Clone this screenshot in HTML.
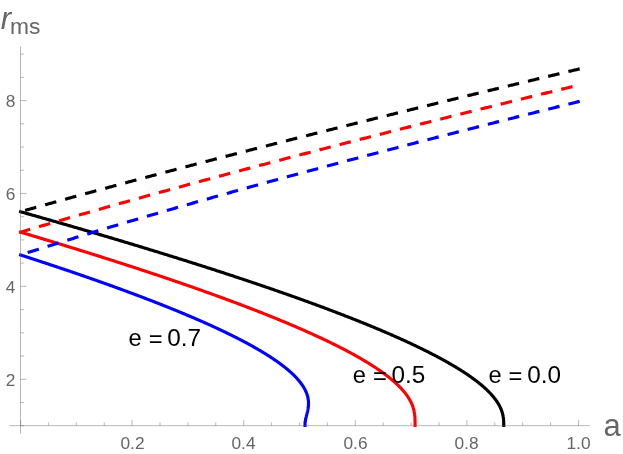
<!DOCTYPE html>
<html><head><meta charset="utf-8"><title>plot</title>
<style>
html,body{margin:0;padding:0;background:#fff;}
body{width:623px;height:454px;overflow:hidden;}
svg{display:block;will-change:transform;}
text{font-family:"Liberation Sans",sans-serif;}
</style></head><body>
<svg width="623" height="454" viewBox="0 0 623 454">
<rect width="623" height="454" fill="#fff"/>
<g fill="none" stroke-width="3.15" stroke-linejoin="round">
<path d="M19.12,254.51 L20.50,254.96 L21.56,255.30 L22.62,255.64 L23.68,255.98 L24.74,256.33 L25.80,256.67 L26.85,257.01 L27.91,257.35 L28.96,257.69 L30.01,258.04 L31.07,258.38 L32.12,258.72 L33.16,259.06 L34.21,259.41 L35.26,259.75 L36.31,260.09 L37.35,260.43 L38.39,260.77 L39.44,261.12 L40.48,261.46 L41.52,261.80 L42.56,262.14 L43.59,262.48 L44.63,262.83 L45.67,263.17 L46.70,263.51 L47.73,263.85 L48.77,264.20 L49.80,264.54 L50.83,264.88 L51.85,265.22 L52.88,265.56 L53.91,265.91 L54.93,266.25 L55.95,266.59 L56.98,266.93 L58.00,267.28 L59.02,267.62 L60.04,267.96 L61.05,268.30 L62.07,268.64 L63.09,268.99 L64.10,269.33 L65.11,269.67 L66.12,270.01 L67.13,270.35 L68.14,270.70 L69.15,271.04 L70.16,271.38 L71.16,271.72 L72.17,272.07 L73.17,272.41 L74.17,272.75 L75.17,273.09 L76.17,273.43 L77.17,273.78 L78.16,274.12 L79.16,274.46 L80.15,274.80 L81.14,275.15 L82.13,275.49 L83.12,275.83 L84.11,276.17 L85.10,276.51 L86.09,276.86 L87.07,277.20 L88.05,277.54 L89.04,277.88 L90.02,278.22 L91.00,278.57 L91.97,278.91 L92.95,279.25 L93.93,279.59 L94.90,279.94 L95.87,280.28 L96.85,280.62 L97.82,280.96 L98.78,281.30 L99.75,281.65 L100.72,281.99 L101.68,282.33 L102.65,282.67 L103.61,283.02 L104.57,283.36 L105.53,283.70 L106.48,284.04 L107.44,284.38 L108.40,284.73 L109.35,285.07 L110.30,285.41 L111.25,285.75 L112.20,286.09 L113.15,286.44 L114.10,286.78 L115.04,287.12 L115.99,287.46 L116.93,287.81 L117.87,288.15 L118.81,288.49 L119.75,288.83 L120.68,289.17 L121.62,289.52 L122.55,289.86 L123.48,290.20 L124.42,290.54 L125.34,290.88 L126.27,291.23 L127.20,291.57 L128.12,291.91 L129.05,292.25 L129.97,292.60 L130.89,292.94 L131.81,293.28 L132.73,293.62 L133.64,293.96 L134.56,294.31 L135.47,294.65 L136.38,294.99 L137.29,295.33 L138.20,295.68 L139.11,296.02 L140.01,296.36 L140.91,296.70 L141.82,297.04 L142.72,297.39 L143.62,297.73 L144.51,298.07 L145.41,298.41 L146.30,298.75 L147.20,299.10 L148.09,299.44 L148.98,299.78 L149.87,300.12 L150.75,300.47 L151.64,300.81 L152.52,301.15 L153.40,301.49 L154.28,301.83 L155.16,302.18 L156.04,302.52 L156.91,302.86 L157.79,303.20 L158.66,303.55 L159.53,303.89 L160.40,304.23 L161.26,304.57 L162.13,304.91 L162.99,305.26 L163.85,305.60 L164.71,305.94 L165.57,306.28 L166.43,306.62 L167.28,306.97 L168.14,307.31 L168.99,307.65 L169.84,307.99 L170.69,308.34 L171.53,308.68 L172.38,309.02 L173.22,309.36 L174.06,309.70 L174.90,310.05 L175.74,310.39 L176.58,310.73 L177.41,311.07 L178.24,311.42 L179.07,311.76 L179.90,312.10 L180.73,312.44 L181.56,312.78 L182.38,313.13 L183.20,313.47 L184.02,313.81 L184.84,314.15 L185.66,314.49 L186.47,314.84 L187.28,315.18 L188.09,315.52 L188.90,315.86 L189.71,316.21 L190.51,316.55 L191.32,316.89 L192.12,317.23 L192.92,317.57 L193.72,317.92 L194.51,318.26 L195.31,318.60 L196.10,318.94 L196.89,319.29 L197.68,319.63 L198.46,319.97 L199.25,320.31 L200.03,320.65 L200.81,321.00 L201.59,321.34 L202.36,321.68 L203.14,322.02 L203.91,322.36 L204.68,322.71 L205.45,323.05 L206.22,323.39 L206.98,323.73 L207.74,324.08 L208.51,324.42 L209.26,324.76 L210.02,325.10 L210.77,325.44 L211.53,325.79 L212.28,326.13 L213.03,326.47 L213.77,326.81 L214.52,327.15 L215.26,327.50 L216.00,327.84 L216.74,328.18 L217.47,328.52 L218.20,328.87 L218.94,329.21 L219.67,329.55 L220.39,329.89 L221.12,330.23 L221.84,330.58 L222.56,330.92 L223.28,331.26 L224.00,331.60 L224.71,331.95 L225.42,332.29 L226.13,332.63 L226.84,332.97 L227.54,333.31 L228.25,333.66 L228.95,334.00 L229.65,334.34 L230.34,334.68 L231.04,335.02 L231.73,335.37 L232.42,335.71 L233.10,336.05 L233.79,336.39 L234.47,336.74 L235.15,337.08 L235.83,337.42 L236.51,337.76 L237.18,338.10 L237.85,338.45 L238.52,338.79 L239.18,339.13 L239.85,339.47 L240.51,339.82 L241.17,340.16 L241.82,340.50 L242.48,340.84 L243.13,341.18 L243.78,341.53 L244.42,341.87 L245.07,342.21 L245.71,342.55 L246.35,342.89 L246.99,343.24 L247.62,343.58 L248.25,343.92 L248.88,344.26 L249.51,344.61 L250.13,344.95 L250.75,345.29 L251.37,345.63 L251.99,345.97 L252.60,346.32 L253.21,346.66 L253.82,347.00 L254.43,347.34 L255.03,347.69 L255.63,348.03 L256.23,348.37 L256.83,348.71 L257.42,349.05 L258.01,349.40 L258.60,349.74 L259.18,350.08 L259.76,350.42 L260.34,350.76 L260.92,351.11 L261.49,351.45 L262.06,351.79 L262.63,352.13 L263.20,352.48 L263.76,352.82 L264.32,353.16 L264.88,353.50 L265.43,353.84 L265.98,354.19 L266.53,354.53 L267.07,354.87 L267.62,355.21 L268.16,355.56 L268.69,355.90 L269.23,356.24 L269.76,356.58 L270.29,356.92 L270.81,357.27 L271.33,357.61 L271.85,357.95 L272.37,358.29 L272.88,358.63 L273.39,358.98 L273.90,359.32 L274.40,359.66 L274.90,360.00 L275.40,360.35 L275.89,360.69 L276.39,361.03 L276.87,361.37 L277.36,361.71 L277.84,362.06 L278.32,362.40 L278.80,362.74 L279.27,363.08 L279.74,363.43 L280.20,363.77 L280.67,364.11 L281.13,364.45 L281.58,364.79 L282.04,365.14 L282.49,365.48 L282.93,365.82 L283.38,366.16 L283.82,366.50 L284.25,366.85 L284.69,367.19 L285.12,367.53 L285.54,367.87 L285.96,368.22 L286.38,368.56 L286.80,368.90 L287.21,369.24 L287.62,369.58 L288.03,369.93 L288.43,370.27 L288.83,370.61 L289.22,370.95 L289.62,371.29 L290.00,371.64 L290.39,371.98 L290.77,372.32 L291.15,372.66 L291.52,373.01 L291.89,373.35 L292.26,373.69 L292.62,374.03 L292.98,374.37 L293.33,374.72 L293.68,375.06 L294.03,375.40 L294.38,375.74 L294.72,376.09 L295.05,376.43 L295.39,376.77 L295.71,377.11 L296.04,377.45 L296.36,377.80 L296.68,378.14 L296.99,378.48 L297.30,378.82 L297.61,379.16 L297.91,379.51 L298.21,379.85 L298.50,380.19 L298.79,380.53 L299.08,380.88 L299.36,381.22 L299.64,381.56 L299.91,381.90 L300.18,382.24 L300.44,382.59 L300.71,382.93 L300.96,383.27 L301.22,383.61 L301.47,383.96 L301.71,384.30 L301.95,384.64 L302.19,384.98 L302.42,385.32 L302.65,385.67 L302.87,386.01 L303.09,386.35 L303.31,386.69 L303.52,387.03 L303.73,387.38 L303.93,387.72 L304.13,388.06 L304.32,388.40 L304.51,388.75 L304.70,389.09 L304.88,389.43 L305.06,389.77 L305.23,390.11 L305.40,390.46 L305.56,390.80 L305.72,391.14 L305.88,391.48 L306.03,391.83 L306.17,392.17 L306.31,392.51 L306.45,392.85 L306.58,393.19 L306.71,393.54 L306.84,393.88 L306.96,394.22 L307.07,394.56 L307.18,394.90 L307.29,395.25 L307.39,395.59 L307.49,395.93 L307.58,396.27 L307.67,396.62 L307.75,396.96 L307.83,397.30 L307.90,397.64 L307.97,397.98 L308.04,398.33 L308.10,398.67 L308.16,399.01 L308.21,399.35 L308.26,399.70 L308.30,400.04 L308.34,400.38 L308.38,400.72 L308.41,401.06 L308.44,401.41 L308.46,401.75 L308.48,402.09 L308.49,402.43 L308.50,402.77 L308.50,403.12 L308.51,403.46 L308.50,403.80 L308.50,404.14 L308.49,404.49 L308.47,404.83 L308.45,405.17 L308.43,405.51 L308.40,405.85 L308.37,406.20 L308.34,406.54 L308.30,406.88 L308.26,407.22 L308.22,407.56 L308.17,407.91 L308.12,408.25 L308.07,408.59 L308.01,408.93 L307.95,409.28 L307.89,409.62 L307.82,409.96 L307.76,410.30 L307.69,410.64 L307.61,410.99 L307.54,411.33 L307.46,411.67 L307.38,412.01 L307.30,412.36 L307.22,412.70 L307.14,413.04 L307.05,413.38 L306.97,413.72 L306.88,414.07 L306.79,414.41 L306.70,414.75 L306.62,415.09 L306.53,415.43 L306.44,415.78 L306.35,416.12 L306.27,416.46 L306.18,416.80 L306.10,417.15 L306.01,417.49 L305.93,417.83 L305.85,418.17 L305.78,418.51 L305.70,418.86 L305.63,419.20 L305.56,419.54 L305.50,419.88 L305.44,420.23 L305.38,420.57 L305.33,420.91 L305.28,421.25 L305.23,421.59 L305.19,421.94 L305.16,422.28 L305.12,422.62 L305.10,422.96 L305.08,423.30 L305.06,423.65 L305.05,423.99 L305.04,424.33 L305.03,424.67 L305.03,425.02 L305.03,425.36 L305.03,425.70 L305.03,426.90" stroke="#00f"/>
<path d="M19.11,231.75 L20.50,232.17 L21.80,232.56 L23.11,232.94 L24.41,233.33 L25.71,233.72 L27.01,234.11 L28.31,234.49 L29.60,234.88 L30.90,235.27 L32.19,235.66 L33.49,236.05 L34.78,236.43 L36.07,236.82 L37.36,237.21 L38.65,237.60 L39.94,237.99 L41.22,238.37 L42.51,238.76 L43.79,239.15 L45.08,239.54 L46.36,239.92 L47.64,240.31 L48.92,240.70 L50.20,241.09 L51.47,241.48 L52.75,241.86 L54.02,242.25 L55.30,242.64 L56.57,243.03 L57.84,243.42 L59.11,243.80 L60.38,244.19 L61.64,244.58 L62.91,244.97 L64.17,245.35 L65.44,245.74 L66.70,246.13 L67.96,246.52 L69.22,246.91 L70.48,247.29 L71.74,247.68 L72.99,248.07 L74.25,248.46 L75.50,248.84 L76.75,249.23 L78.00,249.62 L79.25,250.01 L80.50,250.40 L81.75,250.78 L82.99,251.17 L84.24,251.56 L85.48,251.95 L86.72,252.34 L87.96,252.72 L89.20,253.11 L90.44,253.50 L91.68,253.89 L92.91,254.27 L94.14,254.66 L95.38,255.05 L96.61,255.44 L97.84,255.83 L99.07,256.21 L100.29,256.60 L101.52,256.99 L102.74,257.38 L103.97,257.77 L105.19,258.15 L106.41,258.54 L107.63,258.93 L108.85,259.32 L110.06,259.70 L111.28,260.09 L112.49,260.48 L113.70,260.87 L114.92,261.26 L116.12,261.64 L117.33,262.03 L118.54,262.42 L119.74,262.81 L120.95,263.20 L122.15,263.58 L123.35,263.97 L124.55,264.36 L125.75,264.75 L126.95,265.13 L128.14,265.52 L129.34,265.91 L130.53,266.30 L131.72,266.69 L132.91,267.07 L134.10,267.46 L135.28,267.85 L136.47,268.24 L137.65,268.62 L138.84,269.01 L140.02,269.40 L141.20,269.79 L142.37,270.18 L143.55,270.56 L144.73,270.95 L145.90,271.34 L147.07,271.73 L148.24,272.12 L149.41,272.50 L150.58,272.89 L151.74,273.28 L152.91,273.67 L154.07,274.05 L155.23,274.44 L156.39,274.83 L157.55,275.22 L158.71,275.61 L159.86,275.99 L161.02,276.38 L162.17,276.77 L163.32,277.16 L164.47,277.55 L165.62,277.93 L166.76,278.32 L167.91,278.71 L169.05,279.10 L170.19,279.48 L171.33,279.87 L172.47,280.26 L173.61,280.65 L174.74,281.04 L175.87,281.42 L177.01,281.81 L178.14,282.20 L179.26,282.59 L180.39,282.97 L181.52,283.36 L182.64,283.75 L183.76,284.14 L184.88,284.53 L186.00,284.91 L187.12,285.30 L188.23,285.69 L189.35,286.08 L190.46,286.47 L191.57,286.85 L192.68,287.24 L193.78,287.63 L194.89,288.02 L195.99,288.40 L197.10,288.79 L198.20,289.18 L199.29,289.57 L200.39,289.96 L201.49,290.34 L202.58,290.73 L203.67,291.12 L204.76,291.51 L205.85,291.90 L206.93,292.28 L208.02,292.67 L209.10,293.06 L210.18,293.45 L211.26,293.83 L212.34,294.22 L213.41,294.61 L214.49,295.00 L215.56,295.39 L216.63,295.77 L217.70,296.16 L218.76,296.55 L219.83,296.94 L220.89,297.32 L221.95,297.71 L223.01,298.10 L224.07,298.49 L225.13,298.88 L226.18,299.26 L227.23,299.65 L228.28,300.04 L229.33,300.43 L230.38,300.82 L231.42,301.20 L232.46,301.59 L233.50,301.98 L234.54,302.37 L235.58,302.75 L236.61,303.14 L237.65,303.53 L238.68,303.92 L239.71,304.31 L240.73,304.69 L241.76,305.08 L242.78,305.47 L243.80,305.86 L244.82,306.25 L245.84,306.63 L246.85,307.02 L247.87,307.41 L248.88,307.80 L249.89,308.18 L250.89,308.57 L251.90,308.96 L252.90,309.35 L253.90,309.74 L254.90,310.12 L255.90,310.51 L256.89,310.90 L257.89,311.29 L258.88,311.68 L259.87,312.06 L260.85,312.45 L261.84,312.84 L262.82,313.23 L263.80,313.61 L264.78,314.00 L265.76,314.39 L266.73,314.78 L267.70,315.17 L268.67,315.55 L269.64,315.94 L270.60,316.33 L271.57,316.72 L272.53,317.10 L273.49,317.49 L274.44,317.88 L275.40,318.27 L276.35,318.66 L277.30,319.04 L278.25,319.43 L279.19,319.82 L280.14,320.21 L281.08,320.60 L282.02,320.98 L282.95,321.37 L283.89,321.76 L284.82,322.15 L285.75,322.53 L286.68,322.92 L287.60,323.31 L288.52,323.70 L289.44,324.09 L290.36,324.47 L291.28,324.86 L292.19,325.25 L293.10,325.64 L294.01,326.03 L294.92,326.41 L295.82,326.80 L296.72,327.19 L297.62,327.58 L298.52,327.96 L299.41,328.35 L300.30,328.74 L301.19,329.13 L302.08,329.52 L302.96,329.90 L303.85,330.29 L304.73,330.68 L305.60,331.07 L306.48,331.45 L307.35,331.84 L308.22,332.23 L309.09,332.62 L309.95,333.01 L310.81,333.39 L311.67,333.78 L312.53,334.17 L313.38,334.56 L314.23,334.95 L315.08,335.33 L315.93,335.72 L316.77,336.11 L317.61,336.50 L318.45,336.88 L319.29,337.27 L320.12,337.66 L320.95,338.05 L321.78,338.44 L322.60,338.82 L323.43,339.21 L324.24,339.60 L325.06,339.99 L325.88,340.38 L326.69,340.76 L327.50,341.15 L328.30,341.54 L329.10,341.93 L329.90,342.31 L330.70,342.70 L331.50,343.09 L332.29,343.48 L333.08,343.87 L333.86,344.25 L334.65,344.64 L335.43,345.03 L336.20,345.42 L336.98,345.80 L337.75,346.19 L338.52,346.58 L339.28,346.97 L340.05,347.36 L340.81,347.74 L341.56,348.13 L342.32,348.52 L343.07,348.91 L343.82,349.30 L344.56,349.68 L345.30,350.07 L346.04,350.46 L346.78,350.85 L347.51,351.23 L348.24,351.62 L348.96,352.01 L349.69,352.40 L350.41,352.79 L351.12,353.17 L351.84,353.56 L352.55,353.95 L353.25,354.34 L353.96,354.73 L354.66,355.11 L355.36,355.50 L356.05,355.89 L356.74,356.28 L357.43,356.66 L358.11,357.05 L358.80,357.44 L359.47,357.83 L360.15,358.22 L360.82,358.60 L361.49,358.99 L362.15,359.38 L362.81,359.77 L363.47,360.16 L364.13,360.54 L364.78,360.93 L365.42,361.32 L366.07,361.71 L366.71,362.09 L367.34,362.48 L367.98,362.87 L368.61,363.26 L369.23,363.65 L369.86,364.03 L370.48,364.42 L371.09,364.81 L371.70,365.20 L372.31,365.58 L372.92,365.97 L373.52,366.36 L374.11,366.75 L374.71,367.14 L375.30,367.52 L375.88,367.91 L376.47,368.30 L377.05,368.69 L377.62,369.08 L378.19,369.46 L378.76,369.85 L379.32,370.24 L379.88,370.63 L380.44,371.01 L380.99,371.40 L381.54,371.79 L382.08,372.18 L382.62,372.57 L383.16,372.95 L383.69,373.34 L384.22,373.73 L384.74,374.12 L385.26,374.51 L385.78,374.89 L386.29,375.28 L386.80,375.67 L387.31,376.06 L387.81,376.44 L388.30,376.83 L388.79,377.22 L389.28,377.61 L389.76,378.00 L390.24,378.38 L390.72,378.77 L391.19,379.16 L391.66,379.55 L392.12,379.93 L392.58,380.32 L393.03,380.71 L393.48,381.10 L393.92,381.49 L394.36,381.87 L394.80,382.26 L395.23,382.65 L395.66,383.04 L396.08,383.43 L396.50,383.81 L396.92,384.20 L397.33,384.59 L397.73,384.98 L398.13,385.36 L398.53,385.75 L398.92,386.14 L399.31,386.53 L399.69,386.92 L400.07,387.30 L400.44,387.69 L400.81,388.08 L401.17,388.47 L401.53,388.86 L401.89,389.24 L402.24,389.63 L402.58,390.02 L402.92,390.41 L403.26,390.79 L403.59,391.18 L403.92,391.57 L404.24,391.96 L404.55,392.35 L404.87,392.73 L405.17,393.12 L405.48,393.51 L405.77,393.90 L406.07,394.28 L406.35,394.67 L406.64,395.06 L406.91,395.45 L407.19,395.84 L407.46,396.22 L407.72,396.61 L407.98,397.00 L408.23,397.39 L408.48,397.78 L408.72,398.16 L408.96,398.55 L409.20,398.94 L409.42,399.33 L409.65,399.71 L409.87,400.10 L410.08,400.49 L410.29,400.88 L410.50,401.27 L410.69,401.65 L410.89,402.04 L411.08,402.43 L411.26,402.82 L411.44,403.21 L411.62,403.59 L411.79,403.98 L411.95,404.37 L412.11,404.76 L412.27,405.14 L412.42,405.53 L412.56,405.92 L412.70,406.31 L412.84,406.70 L412.97,407.08 L413.10,407.47 L413.22,407.86 L413.34,408.25 L413.45,408.64 L413.56,409.02 L413.66,409.41 L413.76,409.80 L413.86,410.19 L413.95,410.57 L414.03,410.96 L414.12,411.35 L414.19,411.74 L414.27,412.13 L414.34,412.51 L414.40,412.90 L414.47,413.29 L414.52,413.68 L414.58,414.06 L414.63,414.45 L414.68,414.84 L414.72,415.23 L414.76,415.62 L414.80,416.00 L414.83,416.39 L414.86,416.78 L414.89,417.17 L414.92,417.56 L414.94,417.94 L414.96,418.33 L414.98,418.72 L414.99,419.11 L415.01,419.49 L415.02,419.88 L415.03,420.27 L415.04,420.66 L415.05,421.05 L415.05,421.43 L415.06,421.82 L415.06,422.21 L415.06,422.60 L415.06,422.99 L415.06,423.37 L415.06,423.76 L415.07,424.15 L415.07,424.54 L415.07,424.92 L415.07,425.31 L415.07,425.70 L415.07,426.90" stroke="#f00"/>
<path d="M19.10,211.33 L20.50,211.72 L22.02,212.15 L23.54,212.58 L25.06,213.01 L26.57,213.44 L28.09,213.87 L29.60,214.29 L31.11,214.72 L32.62,215.15 L34.14,215.58 L35.64,216.01 L37.15,216.44 L38.66,216.87 L40.16,217.30 L41.67,217.72 L43.17,218.15 L44.67,218.58 L46.17,219.01 L47.67,219.44 L49.17,219.87 L50.67,220.30 L52.16,220.73 L53.66,221.16 L55.15,221.58 L56.64,222.01 L58.13,222.44 L59.62,222.87 L61.11,223.30 L62.59,223.73 L64.08,224.16 L65.56,224.59 L67.04,225.01 L68.53,225.44 L70.01,225.87 L71.49,226.30 L72.96,226.73 L74.44,227.16 L75.91,227.59 L77.39,228.02 L78.86,228.45 L80.33,228.87 L81.80,229.30 L83.27,229.73 L84.73,230.16 L86.20,230.59 L87.66,231.02 L89.13,231.45 L90.59,231.88 L92.05,232.30 L93.51,232.73 L94.97,233.16 L96.42,233.59 L97.88,234.02 L99.33,234.45 L100.78,234.88 L102.23,235.31 L103.68,235.74 L105.13,236.16 L106.58,236.59 L108.02,237.02 L109.47,237.45 L110.91,237.88 L112.35,238.31 L113.79,238.74 L115.23,239.17 L116.66,239.59 L118.10,240.02 L119.53,240.45 L120.97,240.88 L122.40,241.31 L123.83,241.74 L125.26,242.17 L126.68,242.60 L128.11,243.02 L129.53,243.45 L130.95,243.88 L132.38,244.31 L133.80,244.74 L135.21,245.17 L136.63,245.60 L138.05,246.03 L139.46,246.46 L140.87,246.88 L142.28,247.31 L143.69,247.74 L145.10,248.17 L146.51,248.60 L147.91,249.03 L149.31,249.46 L150.72,249.89 L152.12,250.31 L153.52,250.74 L154.91,251.17 L156.31,251.60 L157.70,252.03 L159.10,252.46 L160.49,252.89 L161.88,253.32 L163.26,253.75 L164.65,254.17 L166.04,254.60 L167.42,255.03 L168.80,255.46 L170.18,255.89 L171.56,256.32 L172.94,256.75 L174.31,257.18 L175.69,257.60 L177.06,258.03 L178.43,258.46 L179.80,258.89 L181.17,259.32 L182.53,259.75 L183.90,260.18 L185.26,260.61 L186.62,261.04 L187.98,261.46 L189.34,261.89 L190.70,262.32 L192.05,262.75 L193.40,263.18 L194.76,263.61 L196.11,264.04 L197.45,264.47 L198.80,264.89 L200.15,265.32 L201.49,265.75 L202.83,266.18 L204.17,266.61 L205.51,267.04 L206.84,267.47 L208.18,267.90 L209.51,268.32 L210.84,268.75 L212.17,269.18 L213.50,269.61 L214.83,270.04 L216.15,270.47 L217.47,270.90 L218.79,271.33 L220.11,271.76 L221.43,272.18 L222.75,272.61 L224.06,273.04 L225.37,273.47 L226.68,273.90 L227.99,274.33 L229.30,274.76 L230.60,275.19 L231.90,275.61 L233.21,276.04 L234.51,276.47 L235.80,276.90 L237.10,277.33 L238.39,277.76 L239.69,278.19 L240.98,278.62 L242.26,279.05 L243.55,279.47 L244.84,279.90 L246.12,280.33 L247.40,280.76 L248.68,281.19 L249.96,281.62 L251.23,282.05 L252.50,282.48 L253.78,282.90 L255.05,283.33 L256.31,283.76 L257.58,284.19 L258.84,284.62 L260.11,285.05 L261.37,285.48 L262.62,285.91 L263.88,286.34 L265.13,286.76 L266.39,287.19 L267.64,287.62 L268.88,288.05 L270.13,288.48 L271.38,288.91 L272.62,289.34 L273.86,289.77 L275.10,290.19 L276.33,290.62 L277.57,291.05 L278.80,291.48 L280.03,291.91 L281.26,292.34 L282.48,292.77 L283.71,293.20 L284.93,293.63 L286.15,294.05 L287.37,294.48 L288.58,294.91 L289.80,295.34 L291.01,295.77 L292.22,296.20 L293.42,296.63 L294.63,297.06 L295.83,297.48 L297.03,297.91 L298.23,298.34 L299.43,298.77 L300.62,299.20 L301.82,299.63 L303.01,300.06 L304.19,300.49 L305.38,300.91 L306.56,301.34 L307.74,301.77 L308.92,302.20 L310.10,302.63 L311.27,303.06 L312.45,303.49 L313.62,303.92 L314.78,304.35 L315.95,304.77 L317.11,305.20 L318.27,305.63 L319.43,306.06 L320.59,306.49 L321.74,306.92 L322.90,307.35 L324.05,307.78 L325.19,308.20 L326.34,308.63 L327.48,309.06 L328.62,309.49 L329.76,309.92 L330.89,310.35 L332.03,310.78 L333.16,311.21 L334.28,311.64 L335.41,312.06 L336.53,312.49 L337.65,312.92 L338.77,313.35 L339.89,313.78 L341.00,314.21 L342.11,314.64 L343.22,315.07 L344.33,315.49 L345.43,315.92 L346.53,316.35 L347.63,316.78 L348.73,317.21 L349.82,317.64 L350.91,318.07 L352.00,318.50 L353.08,318.93 L354.17,319.35 L355.25,319.78 L356.33,320.21 L357.40,320.64 L358.47,321.07 L359.54,321.50 L360.61,321.93 L361.68,322.36 L362.74,322.78 L363.80,323.21 L364.85,323.64 L365.91,324.07 L366.96,324.50 L368.01,324.93 L369.05,325.36 L370.10,325.79 L371.14,326.21 L372.18,326.64 L373.21,327.07 L374.24,327.50 L375.27,327.93 L376.30,328.36 L377.32,328.79 L378.34,329.22 L379.36,329.65 L380.38,330.07 L381.39,330.50 L382.40,330.93 L383.40,331.36 L384.41,331.79 L385.41,332.22 L386.41,332.65 L387.40,333.08 L388.39,333.50 L389.38,333.93 L390.37,334.36 L391.35,334.79 L392.33,335.22 L393.31,335.65 L394.28,336.08 L395.25,336.51 L396.22,336.94 L397.18,337.36 L398.15,337.79 L399.10,338.22 L400.06,338.65 L401.01,339.08 L401.96,339.51 L402.91,339.94 L403.85,340.37 L404.79,340.79 L405.73,341.22 L406.66,341.65 L407.59,342.08 L408.52,342.51 L409.44,342.94 L410.36,343.37 L411.28,343.80 L412.19,344.23 L413.10,344.65 L414.01,345.08 L414.91,345.51 L415.81,345.94 L416.71,346.37 L417.60,346.80 L418.49,347.23 L419.38,347.66 L420.26,348.08 L421.14,348.51 L422.02,348.94 L422.89,349.37 L423.76,349.80 L424.62,350.23 L425.49,350.66 L426.35,351.09 L427.20,351.52 L428.05,351.94 L428.90,352.37 L429.74,352.80 L430.58,353.23 L431.42,353.66 L432.26,354.09 L433.08,354.52 L433.91,354.95 L434.73,355.37 L435.55,355.80 L436.37,356.23 L437.18,356.66 L437.98,357.09 L438.79,357.52 L439.59,357.95 L440.38,358.38 L441.17,358.80 L441.96,359.23 L442.75,359.66 L443.53,360.09 L444.30,360.52 L445.07,360.95 L445.84,361.38 L446.61,361.81 L447.37,362.24 L448.12,362.66 L448.88,363.09 L449.62,363.52 L450.37,363.95 L451.11,364.38 L451.84,364.81 L452.57,365.24 L453.30,365.67 L454.02,366.09 L454.74,366.52 L455.46,366.95 L456.17,367.38 L456.87,367.81 L457.58,368.24 L458.27,368.67 L458.97,369.10 L459.65,369.53 L460.34,369.95 L461.02,370.38 L461.69,370.81 L462.36,371.24 L463.03,371.67 L463.69,372.10 L464.35,372.53 L465.00,372.96 L465.65,373.38 L466.29,373.81 L466.93,374.24 L467.57,374.67 L468.20,375.10 L468.82,375.53 L469.44,375.96 L470.06,376.39 L470.67,376.82 L471.27,377.24 L471.87,377.67 L472.47,378.10 L473.06,378.53 L473.65,378.96 L474.23,379.39 L474.80,379.82 L475.37,380.25 L475.94,380.67 L476.50,381.10 L477.06,381.53 L477.61,381.96 L478.15,382.39 L478.70,382.82 L479.23,383.25 L479.76,383.68 L480.29,384.10 L480.81,384.53 L481.32,384.96 L481.83,385.39 L482.34,385.82 L482.83,386.25 L483.33,386.68 L483.82,387.11 L484.30,387.54 L484.78,387.96 L485.25,388.39 L485.71,388.82 L486.17,389.25 L486.63,389.68 L487.08,390.11 L487.52,390.54 L487.96,390.97 L488.39,391.39 L488.82,391.82 L489.24,392.25 L489.66,392.68 L490.07,393.11 L490.47,393.54 L490.87,393.97 L491.26,394.40 L491.65,394.83 L492.03,395.25 L492.40,395.68 L492.77,396.11 L493.13,396.54 L493.49,396.97 L493.84,397.40 L494.18,397.83 L494.52,398.26 L494.86,398.68 L495.18,399.11 L495.50,399.54 L495.82,399.97 L496.12,400.40 L496.42,400.83 L496.72,401.26 L497.01,401.69 L497.29,402.12 L497.57,402.54 L497.84,402.97 L498.10,403.40 L498.36,403.83 L498.61,404.26 L498.86,404.69 L499.10,405.12 L499.33,405.55 L499.56,405.97 L499.78,406.40 L499.99,406.83 L500.20,407.26 L500.40,407.69 L500.59,408.12 L500.78,408.55 L500.96,408.98 L501.14,409.41 L501.31,409.83 L501.47,410.26 L501.63,410.69 L501.78,411.12 L501.92,411.55 L502.06,411.98 L502.19,412.41 L502.32,412.84 L502.44,413.26 L502.55,413.69 L502.66,414.12 L502.76,414.55 L502.86,414.98 L502.95,415.41 L503.04,415.84 L503.11,416.27 L503.19,416.69 L503.26,417.12 L503.32,417.55 L503.38,417.98 L503.43,418.41 L503.48,418.84 L503.52,419.27 L503.56,419.70 L503.59,420.13 L503.62,420.55 L503.65,420.98 L503.67,421.41 L503.69,421.84 L503.70,422.27 L503.72,422.70 L503.73,423.13 L503.73,423.56 L503.74,423.98 L503.74,424.41 L503.74,424.84 L503.74,425.27 L503.74,425.70 L503.74,426.90" stroke="#000"/>
<path d="M579.67,68.87 L578.50,69.15 L578.08,69.25 L577.20,69.46 L576.32,69.67 L575.44,69.88 L574.57,70.09 L573.69,70.30 L572.81,70.50 L571.93,70.71 L571.05,70.92 L570.17,71.13 L569.30,71.34 L568.42,71.55 L567.54,71.76 L566.66,71.97 L565.78,72.18 L564.91,72.38 L564.03,72.59 L563.15,72.80 L562.28,73.01 L561.40,73.22 L560.52,73.43 L559.65,73.64 L558.77,73.85 L557.89,74.06 L557.02,74.26 L556.14,74.47 L555.27,74.68 L554.39,74.89 L553.52,75.10 L552.64,75.31 L551.77,75.52 L550.89,75.73 L550.02,75.94 L549.14,76.15 L548.27,76.35 L547.39,76.56 L546.52,76.77 L545.64,76.98 L544.77,77.19 L543.90,77.40 L543.02,77.61 L542.15,77.82 L541.28,78.03 L540.40,78.23 L539.53,78.44 L538.66,78.65 L537.79,78.86 L536.91,79.07 L536.04,79.28 L535.17,79.49 L534.30,79.70 L533.42,79.91 L532.55,80.11 L531.68,80.32 L530.81,80.53 L529.94,80.74 L529.07,80.95 L528.20,81.16 L527.33,81.37 L526.46,81.58 L525.58,81.79 L524.71,81.99 L523.84,82.20 L522.97,82.41 L522.10,82.62 L521.23,82.83 L520.37,83.04 L519.50,83.25 L518.63,83.46 L517.76,83.67 L516.89,83.87 L516.02,84.08 L515.15,84.29 L514.28,84.50 L513.41,84.71 L512.55,84.92 L511.68,85.13 L510.81,85.34 L509.94,85.55 L509.08,85.75 L508.21,85.96 L507.34,86.17 L506.47,86.38 L505.61,86.59 L504.74,86.80 L503.87,87.01 L503.01,87.22 L502.14,87.43 L501.27,87.63 L500.41,87.84 L499.54,88.05 L498.68,88.26 L497.81,88.47 L496.95,88.68 L496.08,88.89 L495.22,89.10 L494.35,89.31 L493.49,89.51 L492.62,89.72 L491.76,89.93 L490.89,90.14 L490.03,90.35 L489.17,90.56 L488.30,90.77 L487.44,90.98 L486.58,91.19 L485.71,91.39 L484.85,91.60 L483.99,91.81 L483.12,92.02 L482.26,92.23 L481.40,92.44 L480.54,92.65 L479.67,92.86 L478.81,93.07 L477.95,93.27 L477.09,93.48 L476.23,93.69 L475.37,93.90 L474.51,94.11 L473.64,94.32 L472.78,94.53 L471.92,94.74 L471.06,94.95 L470.20,95.15 L469.34,95.36 L468.48,95.57 L467.62,95.78 L466.76,95.99 L465.90,96.20 L465.04,96.41 L464.19,96.62 L463.33,96.83 L462.47,97.04 L461.61,97.24 L460.75,97.45 L459.89,97.66 L459.03,97.87 L458.18,98.08 L457.32,98.29 L456.46,98.50 L455.60,98.71 L454.75,98.92 L453.89,99.12 L453.03,99.33 L452.17,99.54 L451.32,99.75 L450.46,99.96 L449.61,100.17 L448.75,100.38 L447.89,100.59 L447.04,100.80 L446.18,101.00 L445.33,101.21 L444.47,101.42 L443.62,101.63 L442.76,101.84 L441.91,102.05 L441.05,102.26 L440.20,102.47 L439.34,102.68 L438.49,102.88 L437.63,103.09 L436.78,103.30 L435.93,103.51 L435.07,103.72 L434.22,103.93 L433.37,104.14 L432.51,104.35 L431.66,104.56 L430.81,104.76 L429.96,104.97 L429.10,105.18 L428.25,105.39 L427.40,105.60 L426.55,105.81 L425.70,106.02 L424.84,106.23 L423.99,106.44 L423.14,106.64 L422.29,106.85 L421.44,107.06 L420.59,107.27 L419.74,107.48 L418.89,107.69 L418.04,107.90 L417.19,108.11 L416.34,108.32 L415.49,108.52 L414.64,108.73 L413.79,108.94 L412.94,109.15 L412.09,109.36 L411.24,109.57 L410.40,109.78 L409.55,109.99 L408.70,110.20 L407.85,110.40 L407.00,110.61 L406.16,110.82 L405.31,111.03 L404.46,111.24 L403.61,111.45 L402.77,111.66 L401.92,111.87 L401.07,112.08 L400.23,112.28 L399.38,112.49 L398.54,112.70 L397.69,112.91 L396.84,113.12 L396.00,113.33 L395.15,113.54 L394.31,113.75 L393.46,113.96 L392.62,114.16 L391.77,114.37 L390.93,114.58 L390.08,114.79 L389.24,115.00 L388.40,115.21 L387.55,115.42 L386.71,115.63 L385.86,115.84 L385.02,116.05 L384.18,116.25 L383.34,116.46 L382.49,116.67 L381.65,116.88 L380.81,117.09 L379.97,117.30 L379.12,117.51 L378.28,117.72 L377.44,117.93 L376.60,118.13 L375.76,118.34 L374.92,118.55 L374.08,118.76 L373.23,118.97 L372.39,119.18 L371.55,119.39 L370.71,119.60 L369.87,119.81 L369.03,120.01 L368.19,120.22 L367.35,120.43 L366.52,120.64 L365.68,120.85 L364.84,121.06 L364.00,121.27 L363.16,121.48 L362.32,121.69 L361.48,121.89 L360.65,122.10 L359.81,122.31 L358.97,122.52 L358.13,122.73 L357.29,122.94 L356.46,123.15 L355.62,123.36 L354.78,123.57 L353.95,123.77 L353.11,123.98 L352.27,124.19 L351.44,124.40 L350.60,124.61 L349.77,124.82 L348.93,125.03 L348.10,125.24 L347.26,125.45 L346.43,125.65 L345.59,125.86 L344.76,126.07 L343.92,126.28 L343.09,126.49 L342.25,126.70 L341.42,126.91 L340.59,127.12 L339.75,127.33 L338.92,127.53 L338.09,127.74 L337.25,127.95 L336.42,128.16 L335.59,128.37 L334.76,128.58 L333.92,128.79 L333.09,129.00 L332.26,129.21 L331.43,129.41 L330.60,129.62 L329.77,129.83 L328.94,130.04 L328.11,130.25 L327.27,130.46 L326.44,130.67 L325.61,130.88 L324.78,131.09 L323.95,131.29 L323.12,131.50 L322.29,131.71 L321.47,131.92 L320.64,132.13 L319.81,132.34 L318.98,132.55 L318.15,132.76 L317.32,132.97 L316.49,133.17 L315.67,133.38 L314.84,133.59 L314.01,133.80 L313.18,134.01 L312.36,134.22 L311.53,134.43 L310.70,134.64 L309.88,134.85 L309.05,135.05 L308.22,135.26 L307.40,135.47 L306.57,135.68 L305.75,135.89 L304.92,136.10 L304.09,136.31 L303.27,136.52 L302.44,136.73 L301.62,136.94 L300.80,137.14 L299.97,137.35 L299.15,137.56 L298.32,137.77 L297.50,137.98 L296.68,138.19 L295.85,138.40 L295.03,138.61 L294.21,138.82 L293.38,139.02 L292.56,139.23 L291.74,139.44 L290.92,139.65 L290.10,139.86 L289.27,140.07 L288.45,140.28 L287.63,140.49 L286.81,140.70 L285.99,140.90 L285.17,141.11 L284.35,141.32 L283.53,141.53 L282.71,141.74 L281.89,141.95 L281.07,142.16 L280.25,142.37 L279.43,142.58 L278.61,142.78 L277.79,142.99 L276.97,143.20 L276.15,143.41 L275.33,143.62 L274.52,143.83 L273.70,144.04 L272.88,144.25 L272.06,144.46 L271.25,144.66 L270.43,144.87 L269.61,145.08 L268.79,145.29 L267.98,145.50 L267.16,145.71 L266.35,145.92 L265.53,146.13 L264.71,146.34 L263.90,146.54 L263.08,146.75 L262.27,146.96 L261.45,147.17 L260.64,147.38 L259.82,147.59 L259.01,147.80 L258.20,148.01 L257.38,148.22 L256.57,148.42 L255.75,148.63 L254.94,148.84 L254.13,149.05 L253.32,149.26 L252.50,149.47 L251.69,149.68 L250.88,149.89 L250.07,150.10 L249.25,150.30 L248.44,150.51 L247.63,150.72 L246.82,150.93 L246.01,151.14 L245.20,151.35 L244.39,151.56 L243.58,151.77 L242.77,151.98 L241.96,152.18 L241.15,152.39 L240.34,152.60 L239.53,152.81 L238.72,153.02 L237.91,153.23 L237.10,153.44 L236.29,153.65 L235.48,153.86 L234.68,154.06 L233.87,154.27 L233.06,154.48 L232.25,154.69 L231.45,154.90 L230.64,155.11 L229.83,155.32 L229.03,155.53 L228.22,155.74 L227.41,155.95 L226.61,156.15 L225.80,156.36 L225.00,156.57 L224.19,156.78 L223.39,156.99 L222.58,157.20 L221.78,157.41 L220.97,157.62 L220.17,157.83 L219.36,158.03 L218.56,158.24 L217.76,158.45 L216.95,158.66 L216.15,158.87 L215.35,159.08 L214.54,159.29 L213.74,159.50 L212.94,159.71 L212.14,159.91 L211.33,160.12 L210.53,160.33 L209.73,160.54 L208.93,160.75 L208.13,160.96 L207.33,161.17 L206.53,161.38 L205.73,161.59 L204.93,161.79 L204.13,162.00 L203.33,162.21 L202.53,162.42 L201.73,162.63 L200.93,162.84 L200.13,163.05 L199.33,163.26 L198.53,163.47 L197.74,163.67 L196.94,163.88 L196.14,164.09 L195.34,164.30 L194.54,164.51 L193.75,164.72 L192.95,164.93 L192.15,165.14 L191.36,165.35 L190.56,165.55 L189.77,165.76 L188.97,165.97 L188.17,166.18 L187.38,166.39 L186.58,166.60 L185.79,166.81 L184.99,167.02 L184.20,167.23 L183.41,167.43 L182.61,167.64 L181.82,167.85 L181.02,168.06 L180.23,168.27 L179.44,168.48 L178.65,168.69 L177.85,168.90 L177.06,169.11 L176.27,169.31 L175.48,169.52 L174.68,169.73 L173.89,169.94 L173.10,170.15 L172.31,170.36 L171.52,170.57 L170.73,170.78 L169.94,170.99 L169.15,171.19 L168.36,171.40 L167.57,171.61 L166.78,171.82 L165.99,172.03 L165.20,172.24 L164.41,172.45 L163.62,172.66 L162.84,172.87 L162.05,173.07 L161.26,173.28 L160.47,173.49 L159.69,173.70 L158.90,173.91 L158.11,174.12 L157.32,174.33 L156.54,174.54 L155.75,174.75 L154.97,174.95 L154.18,175.16 L153.39,175.37 L152.61,175.58 L151.82,175.79 L151.04,176.00 L150.25,176.21 L149.47,176.42 L148.69,176.63 L147.90,176.84 L147.12,177.04 L146.34,177.25 L145.55,177.46 L144.77,177.67 L143.99,177.88 L143.20,178.09 L142.42,178.30 L141.64,178.51 L140.86,178.72 L140.08,178.92 L139.30,179.13 L138.51,179.34 L137.73,179.55 L136.95,179.76 L136.17,179.97 L135.39,180.18 L134.61,180.39 L133.83,180.60 L133.05,180.80 L132.27,181.01 L131.50,181.22 L130.72,181.43 L129.94,181.64 L129.16,181.85 L128.38,182.06 L127.61,182.27 L126.83,182.48 L126.05,182.68 L125.27,182.89 L124.50,183.10 L123.72,183.31 L122.94,183.52 L122.17,183.73 L121.39,183.94 L120.62,184.15 L119.84,184.36 L119.07,184.56 L118.29,184.77 L117.52,184.98 L116.74,185.19 L115.97,185.40 L115.20,185.61 L114.42,185.82 L113.65,186.03 L112.88,186.24 L112.10,186.44 L111.33,186.65 L110.56,186.86 L109.79,187.07 L109.01,187.28 L108.24,187.49 L107.47,187.70 L106.70,187.91 L105.93,188.12 L105.16,188.32 L104.39,188.53 L103.62,188.74 L102.85,188.95 L102.08,189.16 L101.31,189.37 L100.54,189.58 L99.77,189.79 L99.00,190.00 L98.23,190.20 L97.47,190.41 L96.70,190.62 L95.93,190.83 L95.16,191.04 L94.40,191.25 L93.63,191.46 L92.86,191.67 L92.10,191.88 L91.33,192.08 L90.57,192.29 L89.80,192.50 L89.03,192.71 L88.27,192.92 L87.50,193.13 L86.74,193.34 L85.98,193.55 L85.21,193.76 L84.45,193.96 L83.68,194.17 L82.92,194.38 L82.16,194.59 L81.40,194.80 L80.63,195.01 L79.87,195.22 L79.11,195.43 L78.35,195.64 L77.59,195.84 L76.83,196.05 L76.06,196.26 L75.30,196.47 L74.54,196.68 L73.78,196.89 L73.02,197.10 L72.26,197.31 L71.50,197.52 L70.75,197.73 L69.99,197.93 L69.23,198.14 L68.47,198.35 L67.71,198.56 L66.95,198.77 L66.20,198.98 L65.44,199.19 L64.68,199.40 L63.93,199.61 L63.17,199.81 L62.41,200.02 L61.66,200.23 L60.90,200.44 L60.15,200.65 L59.39,200.86 L58.64,201.07 L57.88,201.28 L57.13,201.49 L56.37,201.69 L55.62,201.90 L54.87,202.11 L54.11,202.32 L53.36,202.53 L52.61,202.74 L51.85,202.95 L51.10,203.16 L50.35,203.37 L49.60,203.57 L48.85,203.78 L48.10,203.99 L47.35,204.20 L46.60,204.41 L45.84,204.62 L45.09,204.83 L44.35,205.04 L43.60,205.25 L42.85,205.45 L42.10,205.66 L41.35,205.87 L40.60,206.08 L39.85,206.29 L39.10,206.50 L38.36,206.71 L37.61,206.92 L36.86,207.13 L36.12,207.33 L35.37,207.54 L34.62,207.75 L33.88,207.96 L33.13,208.17 L32.39,208.38 L31.64,208.59 L30.90,208.80 L30.15,209.01 L29.41,209.21 L28.66,209.42 L27.92,209.63 L27.18,209.84 L26.43,210.05 L25.69,210.26 L24.95,210.47 L24.21,210.68 L23.47,210.89 L22.72,211.09 L21.98,211.30 L21.24,211.51 L20.50,211.72" stroke="#000" stroke-dasharray="11.6 9.17"/>
<path d="M19.11,232.58 L20.50,232.17 L21.29,231.93 L22.08,231.70 L22.87,231.46 L23.66,231.23 L24.45,231.00 L25.24,230.76 L26.03,230.53 L26.82,230.29 L27.62,230.06 L28.41,229.82 L29.20,229.59 L29.99,229.35 L30.79,229.12 L31.58,228.88 L32.38,228.65 L33.17,228.42 L33.97,228.18 L34.76,227.95 L35.56,227.71 L36.36,227.48 L37.15,227.24 L37.95,227.01 L38.75,226.77 L39.55,226.54 L40.35,226.31 L41.15,226.07 L41.95,225.84 L42.75,225.60 L43.55,225.37 L44.35,225.13 L45.15,224.90 L45.95,224.66 L46.75,224.43 L47.55,224.20 L48.36,223.96 L49.16,223.73 L49.96,223.49 L50.77,223.26 L51.57,223.02 L52.38,222.79 L53.18,222.55 L53.99,222.32 L54.79,222.08 L55.60,221.85 L56.41,221.62 L57.21,221.38 L58.02,221.15 L58.83,220.91 L59.64,220.68 L60.44,220.44 L61.25,220.21 L62.06,219.97 L62.87,219.74 L63.68,219.51 L64.49,219.27 L65.30,219.04 L66.12,218.80 L66.93,218.57 L67.74,218.33 L68.55,218.10 L69.36,217.86 L70.18,217.63 L70.99,217.39 L71.81,217.16 L72.62,216.93 L73.44,216.69 L74.25,216.46 L75.07,216.22 L75.88,215.99 L76.70,215.75 L77.51,215.52 L78.33,215.28 L79.15,215.05 L79.97,214.82 L80.79,214.58 L81.60,214.35 L82.42,214.11 L83.24,213.88 L84.06,213.64 L84.88,213.41 L85.70,213.17 L86.52,212.94 L87.34,212.71 L88.17,212.47 L88.99,212.24 L89.81,212.00 L90.63,211.77 L91.46,211.53 L92.28,211.30 L93.10,211.06 L93.93,210.83 L94.75,210.59 L95.58,210.36 L96.40,210.13 L97.23,209.89 L98.05,209.66 L98.88,209.42 L99.71,209.19 L100.53,208.95 L101.36,208.72 L102.19,208.48 L103.02,208.25 L103.84,208.02 L104.67,207.78 L105.50,207.55 L106.33,207.31 L107.16,207.08 L107.99,206.84 L108.82,206.61 L109.65,206.37 L110.49,206.14 L111.32,205.90 L112.15,205.67 L112.98,205.44 L113.81,205.20 L114.65,204.97 L115.48,204.73 L116.31,204.50 L117.15,204.26 L117.98,204.03 L118.82,203.79 L119.65,203.56 L120.49,203.33 L121.33,203.09 L122.16,202.86 L123.00,202.62 L123.84,202.39 L124.67,202.15 L125.51,201.92 L126.35,201.68 L127.19,201.45 L128.03,201.22 L128.86,200.98 L129.70,200.75 L130.54,200.51 L131.38,200.28 L132.22,200.04 L133.07,199.81 L133.91,199.57 L134.75,199.34 L135.59,199.10 L136.43,198.87 L137.27,198.64 L138.12,198.40 L138.96,198.17 L139.80,197.93 L140.65,197.70 L141.49,197.46 L142.34,197.23 L143.18,196.99 L144.03,196.76 L144.87,196.53 L145.72,196.29 L146.57,196.06 L147.41,195.82 L148.26,195.59 L149.11,195.35 L149.95,195.12 L150.80,194.88 L151.65,194.65 L152.50,194.41 L153.35,194.18 L154.20,193.95 L155.05,193.71 L155.90,193.48 L156.75,193.24 L157.60,193.01 L158.45,192.77 L159.30,192.54 L160.15,192.30 L161.00,192.07 L161.86,191.84 L162.71,191.60 L163.56,191.37 L164.42,191.13 L165.27,190.90 L166.12,190.66 L166.98,190.43 L167.83,190.19 L168.69,189.96 L169.54,189.73 L170.40,189.49 L171.25,189.26 L172.11,189.02 L172.97,188.79 L173.82,188.55 L174.68,188.32 L175.54,188.08 L176.40,187.85 L177.25,187.61 L178.11,187.38 L178.97,187.15 L179.83,186.91 L180.69,186.68 L181.55,186.44 L182.41,186.21 L183.27,185.97 L184.13,185.74 L184.99,185.50 L185.85,185.27 L186.72,185.04 L187.58,184.80 L188.44,184.57 L189.30,184.33 L190.17,184.10 L191.03,183.86 L191.89,183.63 L192.76,183.39 L193.62,183.16 L194.48,182.92 L195.35,182.69 L196.21,182.46 L197.08,182.22 L197.95,181.99 L198.81,181.75 L199.68,181.52 L200.55,181.28 L201.41,181.05 L202.28,180.81 L203.15,180.58 L204.02,180.35 L204.88,180.11 L205.75,179.88 L206.62,179.64 L207.49,179.41 L208.36,179.17 L209.23,178.94 L210.10,178.70 L210.97,178.47 L211.84,178.24 L212.71,178.00 L213.58,177.77 L214.46,177.53 L215.33,177.30 L216.20,177.06 L217.07,176.83 L217.95,176.59 L218.82,176.36 L219.69,176.12 L220.57,175.89 L221.44,175.66 L222.31,175.42 L223.19,175.19 L224.06,174.95 L224.94,174.72 L225.82,174.48 L226.69,174.25 L227.57,174.01 L228.44,173.78 L229.32,173.55 L230.20,173.31 L231.08,173.08 L231.95,172.84 L232.83,172.61 L233.71,172.37 L234.59,172.14 L235.47,171.90 L236.35,171.67 L237.23,171.43 L238.11,171.20 L238.99,170.97 L239.87,170.73 L240.75,170.50 L241.63,170.26 L242.51,170.03 L243.39,169.79 L244.27,169.56 L245.16,169.32 L246.04,169.09 L246.92,168.86 L247.80,168.62 L248.69,168.39 L249.57,168.15 L250.45,167.92 L251.34,167.68 L252.22,167.45 L253.11,167.21 L253.99,166.98 L254.88,166.75 L255.76,166.51 L256.65,166.28 L257.54,166.04 L258.42,165.81 L259.31,165.57 L260.20,165.34 L261.08,165.10 L261.97,164.87 L262.86,164.63 L263.75,164.40 L264.64,164.17 L265.53,163.93 L266.41,163.70 L267.30,163.46 L268.19,163.23 L269.08,162.99 L269.97,162.76 L270.86,162.52 L271.76,162.29 L272.65,162.06 L273.54,161.82 L274.43,161.59 L275.32,161.35 L276.21,161.12 L277.11,160.88 L278.00,160.65 L278.89,160.41 L279.79,160.18 L280.68,159.94 L281.57,159.71 L282.47,159.48 L283.36,159.24 L284.26,159.01 L285.15,158.77 L286.05,158.54 L286.94,158.30 L287.84,158.07 L288.74,157.83 L289.63,157.60 L290.53,157.37 L291.43,157.13 L292.32,156.90 L293.22,156.66 L294.12,156.43 L295.02,156.19 L295.91,155.96 L296.81,155.72 L297.71,155.49 L298.61,155.25 L299.51,155.02 L300.41,154.79 L301.31,154.55 L302.21,154.32 L303.11,154.08 L304.01,153.85 L304.91,153.61 L305.81,153.38 L306.72,153.14 L307.62,152.91 L308.52,152.68 L309.42,152.44 L310.33,152.21 L311.23,151.97 L312.13,151.74 L313.04,151.50 L313.94,151.27 L314.84,151.03 L315.75,150.80 L316.65,150.57 L317.56,150.33 L318.46,150.10 L319.37,149.86 L320.27,149.63 L321.18,149.39 L322.09,149.16 L322.99,148.92 L323.90,148.69 L324.81,148.45 L325.71,148.22 L326.62,147.99 L327.53,147.75 L328.44,147.52 L329.35,147.28 L330.25,147.05 L331.16,146.81 L332.07,146.58 L332.98,146.34 L333.89,146.11 L334.80,145.88 L335.71,145.64 L336.62,145.41 L337.53,145.17 L338.44,144.94 L339.35,144.70 L340.27,144.47 L341.18,144.23 L342.09,144.00 L343.00,143.76 L343.91,143.53 L344.83,143.30 L345.74,143.06 L346.65,142.83 L347.57,142.59 L348.48,142.36 L349.40,142.12 L350.31,141.89 L351.22,141.65 L352.14,141.42 L353.05,141.19 L353.97,140.95 L354.89,140.72 L355.80,140.48 L356.72,140.25 L357.63,140.01 L358.55,139.78 L359.47,139.54 L360.38,139.31 L361.30,139.08 L362.22,138.84 L363.14,138.61 L364.06,138.37 L364.97,138.14 L365.89,137.90 L366.81,137.67 L367.73,137.43 L368.65,137.20 L369.57,136.96 L370.49,136.73 L371.41,136.50 L372.33,136.26 L373.25,136.03 L374.17,135.79 L375.09,135.56 L376.01,135.32 L376.94,135.09 L377.86,134.85 L378.78,134.62 L379.70,134.39 L380.63,134.15 L381.55,133.92 L382.47,133.68 L383.40,133.45 L384.32,133.21 L385.24,132.98 L386.17,132.74 L387.09,132.51 L388.02,132.27 L388.94,132.04 L389.87,131.81 L390.79,131.57 L391.72,131.34 L392.64,131.10 L393.57,130.87 L394.50,130.63 L395.42,130.40 L396.35,130.16 L397.28,129.93 L398.20,129.70 L399.13,129.46 L400.06,129.23 L400.99,128.99 L401.92,128.76 L402.84,128.52 L403.77,128.29 L404.70,128.05 L405.63,127.82 L406.56,127.59 L407.49,127.35 L408.42,127.12 L409.35,126.88 L410.28,126.65 L411.21,126.41 L412.14,126.18 L413.07,125.94 L414.01,125.71 L414.94,125.47 L415.87,125.24 L416.80,125.01 L417.73,124.77 L418.67,124.54 L419.60,124.30 L420.53,124.07 L421.47,123.83 L422.40,123.60 L423.33,123.36 L424.27,123.13 L425.20,122.90 L426.14,122.66 L427.07,122.43 L428.01,122.19 L428.94,121.96 L429.88,121.72 L430.81,121.49 L431.75,121.25 L432.69,121.02 L433.62,120.78 L434.56,120.55 L435.50,120.32 L436.43,120.08 L437.37,119.85 L438.31,119.61 L439.25,119.38 L440.18,119.14 L441.12,118.91 L442.06,118.67 L443.00,118.44 L443.94,118.21 L444.88,117.97 L445.82,117.74 L446.76,117.50 L447.70,117.27 L448.64,117.03 L449.58,116.80 L450.52,116.56 L451.46,116.33 L452.40,116.10 L453.34,115.86 L454.28,115.63 L455.22,115.39 L456.17,115.16 L457.11,114.92 L458.05,114.69 L458.99,114.45 L459.94,114.22 L460.88,113.98 L461.82,113.75 L462.77,113.52 L463.71,113.28 L464.65,113.05 L465.60,112.81 L466.54,112.58 L467.49,112.34 L468.43,112.11 L469.38,111.87 L470.32,111.64 L471.27,111.41 L472.21,111.17 L473.16,110.94 L474.11,110.70 L475.05,110.47 L476.00,110.23 L476.95,110.00 L477.89,109.76 L478.84,109.53 L479.79,109.29 L480.74,109.06 L481.69,108.83 L482.63,108.59 L483.58,108.36 L484.53,108.12 L485.48,107.89 L486.43,107.65 L487.38,107.42 L488.33,107.18 L489.28,106.95 L490.23,106.72 L491.18,106.48 L492.13,106.25 L493.08,106.01 L494.03,105.78 L494.98,105.54 L495.93,105.31 L496.88,105.07 L497.84,104.84 L498.79,104.61 L499.74,104.37 L500.69,104.14 L501.65,103.90 L502.60,103.67 L503.55,103.43 L504.51,103.20 L505.46,102.96 L506.41,102.73 L507.37,102.49 L508.32,102.26 L509.28,102.03 L510.23,101.79 L511.19,101.56 L512.14,101.32 L513.10,101.09 L514.05,100.85 L515.01,100.62 L515.96,100.38 L516.92,100.15 L517.88,99.92 L518.83,99.68 L519.79,99.45 L520.75,99.21 L521.70,98.98 L522.66,98.74 L523.62,98.51 L524.58,98.27 L525.53,98.04 L526.49,97.80 L527.45,97.57 L528.41,97.34 L529.37,97.10 L530.33,96.87 L531.29,96.63 L532.25,96.40 L533.21,96.16 L534.17,95.93 L535.13,95.69 L536.09,95.46 L537.05,95.23 L538.01,94.99 L538.97,94.76 L539.93,94.52 L540.89,94.29 L541.85,94.05 L542.82,93.82 L543.78,93.58 L544.74,93.35 L545.70,93.12 L546.67,92.88 L547.63,92.65 L548.59,92.41 L549.56,92.18 L550.52,91.94 L551.48,91.71 L552.45,91.47 L553.41,91.24 L554.38,91.00 L555.34,90.77 L556.31,90.54 L557.27,90.30 L558.24,90.07 L559.20,89.83 L560.17,89.60 L561.13,89.36 L562.10,89.13 L563.06,88.89 L564.03,88.66 L565.00,88.43 L565.96,88.19 L566.93,87.96 L567.90,87.72 L568.87,87.49 L569.83,87.25 L570.80,87.02 L571.77,86.78 L572.74,86.55 L573.71,86.31 L574.68,86.08 L575.64,85.85 L576.61,85.61 L577.58,85.38 L578.50,85.16" stroke="#f00" stroke-dasharray="11.6 9.17"/>
<path d="M579.66,101.34 L578.50,101.63 L577.47,101.88 L576.41,102.15 L575.35,102.41 L574.29,102.67 L573.22,102.94 L572.16,103.20 L571.10,103.46 L570.04,103.72 L568.98,103.99 L567.92,104.25 L566.86,104.51 L565.80,104.78 L564.74,105.04 L563.68,105.30 L562.62,105.57 L561.56,105.83 L560.50,106.09 L559.44,106.35 L558.38,106.62 L557.32,106.88 L556.27,107.14 L555.21,107.41 L554.15,107.67 L553.09,107.93 L552.04,108.20 L550.98,108.46 L549.93,108.72 L548.87,108.99 L547.81,109.25 L546.76,109.51 L545.70,109.77 L544.65,110.04 L543.60,110.30 L542.54,110.56 L541.49,110.83 L540.43,111.09 L539.38,111.35 L538.33,111.62 L537.28,111.88 L536.22,112.14 L535.17,112.40 L534.12,112.67 L533.07,112.93 L532.02,113.19 L530.97,113.46 L529.92,113.72 L528.87,113.98 L527.82,114.25 L526.77,114.51 L525.72,114.77 L524.67,115.03 L523.62,115.30 L522.57,115.56 L521.52,115.82 L520.48,116.09 L519.43,116.35 L518.38,116.61 L517.33,116.88 L516.29,117.14 L515.24,117.40 L514.20,117.66 L513.15,117.93 L512.10,118.19 L511.06,118.45 L510.02,118.72 L508.97,118.98 L507.93,119.24 L506.88,119.51 L505.84,119.77 L504.80,120.03 L503.75,120.29 L502.71,120.56 L501.67,120.82 L500.63,121.08 L499.58,121.35 L498.54,121.61 L497.50,121.87 L496.46,122.14 L495.42,122.40 L494.38,122.66 L493.34,122.92 L492.30,123.19 L491.26,123.45 L490.22,123.71 L489.18,123.98 L488.15,124.24 L487.11,124.50 L486.07,124.77 L485.03,125.03 L484.00,125.29 L482.96,125.55 L481.92,125.82 L480.89,126.08 L479.85,126.34 L478.81,126.61 L477.78,126.87 L476.74,127.13 L475.71,127.40 L474.68,127.66 L473.64,127.92 L472.61,128.19 L471.57,128.45 L470.54,128.71 L469.51,128.97 L468.48,129.24 L467.44,129.50 L466.41,129.76 L465.38,130.03 L464.35,130.29 L463.32,130.55 L462.29,130.82 L461.26,131.08 L460.23,131.34 L459.20,131.60 L458.17,131.87 L457.14,132.13 L456.11,132.39 L455.08,132.66 L454.06,132.92 L453.03,133.18 L452.00,133.45 L450.97,133.71 L449.95,133.97 L448.92,134.23 L447.90,134.50 L446.87,134.76 L445.84,135.02 L444.82,135.29 L443.80,135.55 L442.77,135.81 L441.75,136.08 L440.72,136.34 L439.70,136.60 L438.68,136.86 L437.65,137.13 L436.63,137.39 L435.61,137.65 L434.59,137.92 L433.57,138.18 L432.55,138.44 L431.52,138.71 L430.50,138.97 L429.48,139.23 L428.46,139.49 L427.45,139.76 L426.43,140.02 L425.41,140.28 L424.39,140.55 L423.37,140.81 L422.35,141.07 L421.34,141.34 L420.32,141.60 L419.30,141.86 L418.29,142.12 L417.27,142.39 L416.25,142.65 L415.24,142.91 L414.22,143.18 L413.21,143.44 L412.19,143.70 L411.18,143.97 L410.17,144.23 L409.15,144.49 L408.14,144.75 L407.13,145.02 L406.12,145.28 L405.10,145.54 L404.09,145.81 L403.08,146.07 L402.07,146.33 L401.06,146.60 L400.05,146.86 L399.04,147.12 L398.03,147.38 L397.02,147.65 L396.01,147.91 L395.00,148.17 L393.99,148.44 L392.99,148.70 L391.98,148.96 L390.97,149.23 L389.97,149.49 L388.96,149.75 L387.95,150.02 L386.95,150.28 L385.94,150.54 L384.94,150.80 L383.93,151.07 L382.93,151.33 L381.92,151.59 L380.92,151.86 L379.92,152.12 L378.91,152.38 L377.91,152.65 L376.91,152.91 L375.91,153.17 L374.91,153.43 L373.90,153.70 L372.90,153.96 L371.90,154.22 L370.90,154.49 L369.90,154.75 L368.90,155.01 L367.91,155.28 L366.91,155.54 L365.91,155.80 L364.91,156.06 L363.91,156.33 L362.92,156.59 L361.92,156.85 L360.92,157.12 L359.93,157.38 L358.93,157.64 L357.94,157.91 L356.94,158.17 L355.95,158.43 L354.95,158.69 L353.96,158.96 L352.96,159.22 L351.97,159.48 L350.98,159.75 L349.99,160.01 L348.99,160.27 L348.00,160.54 L347.01,160.80 L346.02,161.06 L345.03,161.32 L344.04,161.59 L343.05,161.85 L342.06,162.11 L341.07,162.38 L340.08,162.64 L339.09,162.90 L338.10,163.17 L337.12,163.43 L336.13,163.69 L335.14,163.95 L334.16,164.22 L333.17,164.48 L332.18,164.74 L331.20,165.01 L330.21,165.27 L329.23,165.53 L328.24,165.80 L327.26,166.06 L326.28,166.32 L325.29,166.58 L324.31,166.85 L323.33,167.11 L322.35,167.37 L321.37,167.64 L320.38,167.90 L319.40,168.16 L318.42,168.43 L317.44,168.69 L316.46,168.95 L315.48,169.21 L314.50,169.48 L313.53,169.74 L312.55,170.00 L311.57,170.27 L310.59,170.53 L309.62,170.79 L308.64,171.06 L307.66,171.32 L306.69,171.58 L305.71,171.85 L304.74,172.11 L303.76,172.37 L302.79,172.63 L301.81,172.90 L300.84,173.16 L299.87,173.42 L298.89,173.69 L297.92,173.95 L296.95,174.21 L295.98,174.48 L295.01,174.74 L294.04,175.00 L293.07,175.26 L292.10,175.53 L291.13,175.79 L290.16,176.05 L289.19,176.32 L288.22,176.58 L287.25,176.84 L286.29,177.11 L285.32,177.37 L284.35,177.63 L283.39,177.89 L282.42,178.16 L281.45,178.42 L280.49,178.68 L279.52,178.95 L278.56,179.21 L277.60,179.47 L276.63,179.74 L275.67,180.00 L274.71,180.26 L273.75,180.52 L272.78,180.79 L271.82,181.05 L270.86,181.31 L269.90,181.58 L268.94,181.84 L267.98,182.10 L267.02,182.37 L266.06,182.63 L265.10,182.89 L264.15,183.15 L263.19,183.42 L262.23,183.68 L261.27,183.94 L260.32,184.21 L259.36,184.47 L258.40,184.73 L257.45,185.00 L256.49,185.26 L255.54,185.52 L254.59,185.78 L253.63,186.05 L252.68,186.31 L251.73,186.57 L250.77,186.84 L249.82,187.10 L248.87,187.36 L247.92,187.63 L246.97,187.89 L246.02,188.15 L245.07,188.41 L244.12,188.68 L243.17,188.94 L242.22,189.20 L241.28,189.47 L240.33,189.73 L239.38,189.99 L238.43,190.26 L237.49,190.52 L236.54,190.78 L235.60,191.05 L234.65,191.31 L233.71,191.57 L232.76,191.83 L231.82,192.10 L230.88,192.36 L229.93,192.62 L228.99,192.89 L228.05,193.15 L227.11,193.41 L226.17,193.68 L225.23,193.94 L224.29,194.20 L223.35,194.46 L222.41,194.73 L221.47,194.99 L220.53,195.25 L219.59,195.52 L218.65,195.78 L217.72,196.04 L216.78,196.31 L215.84,196.57 L214.91,196.83 L213.97,197.09 L213.04,197.36 L212.10,197.62 L211.17,197.88 L210.24,198.15 L209.30,198.41 L208.37,198.67 L207.44,198.94 L206.51,199.20 L205.57,199.46 L204.64,199.72 L203.71,199.99 L202.78,200.25 L201.85,200.51 L200.93,200.78 L200.00,201.04 L199.07,201.30 L198.14,201.57 L197.21,201.83 L196.29,202.09 L195.36,202.35 L194.44,202.62 L193.51,202.88 L192.59,203.14 L191.66,203.41 L190.74,203.67 L189.81,203.93 L188.89,204.20 L187.97,204.46 L187.05,204.72 L186.12,204.98 L185.20,205.25 L184.28,205.51 L183.36,205.77 L182.44,206.04 L181.52,206.30 L180.61,206.56 L179.69,206.83 L178.77,207.09 L177.85,207.35 L176.94,207.61 L176.02,207.88 L175.10,208.14 L174.19,208.40 L173.27,208.67 L172.36,208.93 L171.44,209.19 L170.53,209.46 L169.62,209.72 L168.71,209.98 L167.79,210.24 L166.88,210.51 L165.97,210.77 L165.06,211.03 L164.15,211.30 L163.24,211.56 L162.33,211.82 L161.42,212.09 L160.51,212.35 L159.61,212.61 L158.70,212.88 L157.79,213.14 L156.89,213.40 L155.98,213.66 L155.08,213.93 L154.17,214.19 L153.27,214.45 L152.36,214.72 L151.46,214.98 L150.56,215.24 L149.66,215.51 L148.75,215.77 L147.85,216.03 L146.95,216.29 L146.05,216.56 L145.15,216.82 L144.25,217.08 L143.35,217.35 L142.46,217.61 L141.56,217.87 L140.66,218.14 L139.77,218.40 L138.87,218.66 L137.97,218.92 L137.08,219.19 L136.18,219.45 L135.29,219.71 L134.40,219.98 L133.50,220.24 L132.61,220.50 L131.72,220.77 L130.83,221.03 L129.94,221.29 L129.05,221.55 L128.16,221.82 L127.27,222.08 L126.38,222.34 L125.49,222.61 L124.60,222.87 L123.71,223.13 L122.83,223.40 L121.94,223.66 L121.05,223.92 L120.17,224.18 L119.28,224.45 L118.40,224.71 L117.52,224.97 L116.63,225.24 L115.75,225.50 L114.87,225.76 L113.99,226.03 L113.11,226.29 L112.23,226.55 L111.35,226.81 L110.47,227.08 L109.59,227.34 L108.71,227.60 L107.83,227.87 L106.95,228.13 L106.08,228.39 L105.20,228.66 L104.33,228.92 L103.45,229.18 L102.58,229.44 L101.70,229.71 L100.83,229.97 L99.96,230.23 L99.08,230.50 L98.21,230.76 L97.34,231.02 L96.47,231.29 L95.60,231.55 L94.73,231.81 L93.86,232.07 L92.99,232.34 L92.13,232.60 L91.26,232.86 L90.39,233.13 L89.53,233.39 L88.66,233.65 L87.79,233.92 L86.93,234.18 L86.07,234.44 L85.20,234.71 L84.34,234.97 L83.48,235.23 L82.62,235.49 L81.75,235.76 L80.89,236.02 L80.03,236.28 L79.17,236.55 L78.32,236.81 L77.46,237.07 L76.60,237.34 L75.74,237.60 L74.89,237.86 L74.03,238.12 L73.18,238.39 L72.32,238.65 L71.47,238.91 L70.61,239.18 L69.76,239.44 L68.91,239.70 L68.06,239.97 L67.20,240.23 L66.35,240.49 L65.50,240.75 L64.65,241.02 L63.80,241.28 L62.96,241.54 L62.11,241.81 L61.26,242.07 L60.41,242.33 L59.57,242.60 L58.72,242.86 L57.88,243.12 L57.03,243.38 L56.19,243.65 L55.35,243.91 L54.51,244.17 L53.66,244.44 L52.82,244.70 L51.98,244.96 L51.14,245.23 L50.30,245.49 L49.46,245.75 L48.63,246.01 L47.79,246.28 L46.95,246.54 L46.11,246.80 L45.28,247.07 L44.44,247.33 L43.61,247.59 L42.78,247.86 L41.94,248.12 L41.11,248.38 L40.28,248.64 L39.45,248.91 L38.62,249.17 L37.79,249.43 L36.96,249.70 L36.13,249.96 L35.30,250.22 L34.47,250.49 L33.64,250.75 L32.82,251.01 L31.99,251.27 L31.17,251.54 L30.34,251.80 L29.52,252.06 L28.70,252.33 L27.87,252.59 L27.05,252.85 L26.23,253.12 L25.41,253.38 L24.59,253.64 L23.77,253.91 L22.95,254.17 L22.13,254.43 L21.32,254.69 L20.50,254.96" stroke="#00f" stroke-dasharray="11.6 9.17"/>
</g>
<g stroke="#666666" stroke-width="0.47" fill="none">
<line x1="9.3" y1="425.7" x2="589.8" y2="425.7"/>
<line x1="20.5" y1="46.6" x2="20.5" y2="433.6"/>
</g>
<g stroke="#666666" stroke-width="0.46" fill="none">
<line x1="20.50" y1="425.70" x2="20.50" y2="420.15"/><line x1="48.40" y1="425.70" x2="48.40" y2="422.40"/><line x1="76.30" y1="425.70" x2="76.30" y2="422.40"/><line x1="104.20" y1="425.70" x2="104.20" y2="422.40"/><line x1="132.10" y1="425.70" x2="132.10" y2="420.15"/><line x1="160.00" y1="425.70" x2="160.00" y2="422.40"/><line x1="187.90" y1="425.70" x2="187.90" y2="422.40"/><line x1="215.80" y1="425.70" x2="215.80" y2="422.40"/><line x1="243.70" y1="425.70" x2="243.70" y2="420.15"/><line x1="271.60" y1="425.70" x2="271.60" y2="422.40"/><line x1="299.50" y1="425.70" x2="299.50" y2="422.40"/><line x1="327.40" y1="425.70" x2="327.40" y2="422.40"/><line x1="355.30" y1="425.70" x2="355.30" y2="420.15"/><line x1="383.20" y1="425.70" x2="383.20" y2="422.40"/><line x1="411.10" y1="425.70" x2="411.10" y2="422.40"/><line x1="439.00" y1="425.70" x2="439.00" y2="422.40"/><line x1="466.90" y1="425.70" x2="466.90" y2="420.15"/><line x1="494.80" y1="425.70" x2="494.80" y2="422.40"/><line x1="522.70" y1="425.70" x2="522.70" y2="422.40"/><line x1="550.60" y1="425.70" x2="550.60" y2="422.40"/><line x1="578.50" y1="425.70" x2="578.50" y2="420.15"/><line x1="20.50" y1="425.70" x2="24.20" y2="425.70"/><line x1="20.50" y1="402.47" x2="24.20" y2="402.47"/><line x1="20.50" y1="379.25" x2="26.60" y2="379.25"/><line x1="20.50" y1="356.02" x2="24.20" y2="356.02"/><line x1="20.50" y1="332.80" x2="24.20" y2="332.80"/><line x1="20.50" y1="309.57" x2="24.20" y2="309.57"/><line x1="20.50" y1="286.35" x2="26.60" y2="286.35"/><line x1="20.50" y1="263.12" x2="24.20" y2="263.12"/><line x1="20.50" y1="239.90" x2="24.20" y2="239.90"/><line x1="20.50" y1="216.67" x2="24.20" y2="216.67"/><line x1="20.50" y1="193.45" x2="26.60" y2="193.45"/><line x1="20.50" y1="170.22" x2="24.20" y2="170.22"/><line x1="20.50" y1="147.00" x2="24.20" y2="147.00"/><line x1="20.50" y1="123.77" x2="24.20" y2="123.77"/><line x1="20.50" y1="100.55" x2="26.60" y2="100.55"/><line x1="20.50" y1="77.32" x2="24.20" y2="77.32"/><line x1="20.50" y1="54.10" x2="24.20" y2="54.10"/>
</g>
<g fill="#666666" font-size="17.3">
<text x="132.50" y="449.0" text-anchor="middle">0.2</text><text x="243.50" y="449.0" text-anchor="middle">0.4</text><text x="355.50" y="449.0" text-anchor="middle">0.6</text><text x="466.50" y="449.0" text-anchor="middle">0.8</text><text x="578.50" y="449.0" text-anchor="middle">1.0</text>
<text x="15.4" y="386.10" text-anchor="end">2</text><text x="15.4" y="293.10" text-anchor="end">4</text><text x="15.4" y="200.10" text-anchor="end">6</text><text x="15.4" y="107.10" text-anchor="end">8</text>
</g>
<text x="603.6" y="436" font-size="31" fill="#666666">a</text>
<text x="0.8" y="28.7" font-size="31" fill="#666666" font-style="italic">r</text>
<text x="10.1" y="34.2" font-size="22.8" fill="#666666">ms</text>
<g fill="#000" font-size="23.7">
<text x="128.45" y="346.05">e</text><text x="148.65" y="346.85">=</text><text x="167.30" y="346.05" font-size="24.3">0.7</text>
<text x="352.70" y="382.80">e</text><text x="372.90" y="383.60">=</text><text x="391.55" y="382.80" font-size="24.3">0.5</text>
<text x="488.40" y="382.80">e</text><text x="508.60" y="383.60">=</text><text x="527.25" y="382.80" font-size="24.3">0.0</text>
</g>
</svg>
</body></html>
